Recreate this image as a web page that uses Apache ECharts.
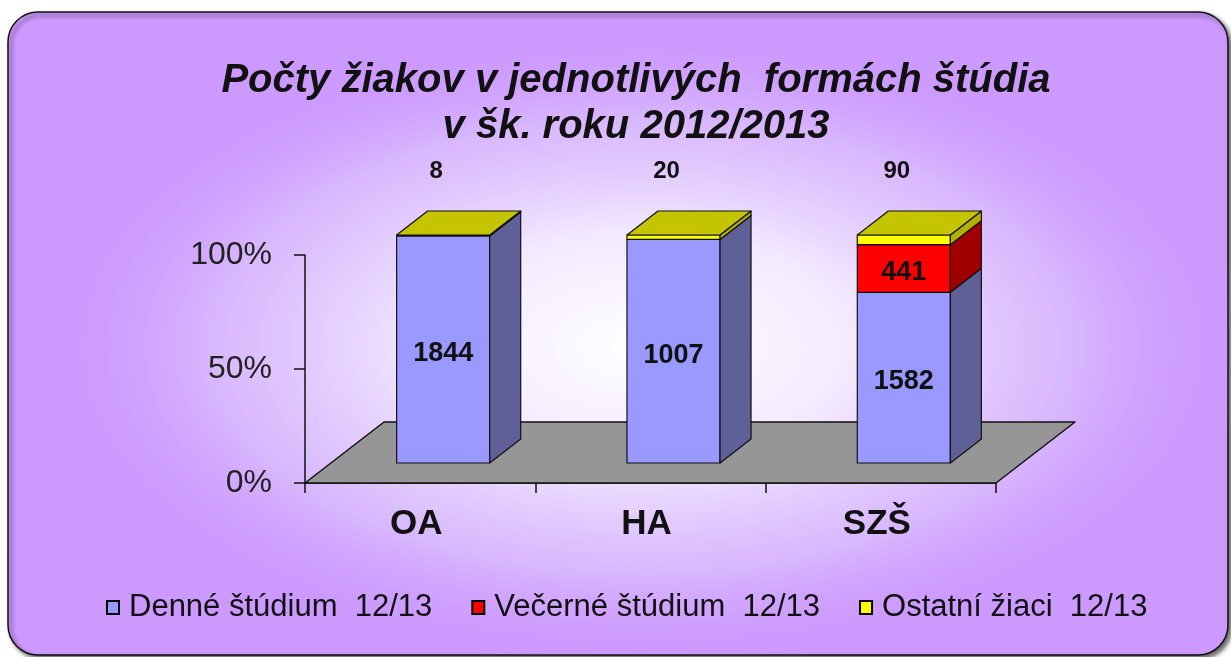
<!DOCTYPE html>
<html>
<head>
<meta charset="utf-8">
<script src="https://cdn.jsdelivr.net/npm/echarts@6/dist/echarts.min.js"></script>
<style>
  html, body { margin: 0; padding: 0; background: #fff; }
  #chart { width: 1231px; height: 657px; }
</style>
</head>
<body>
<div id="chart"></div>
<script>
// data
const categories = ['OA', 'HA', 'SZŠ'];
const seriesNames = ['Denné štúdium  12/13', 'Večerné štúdium  12/13', 'Ostatní žiaci  12/13'];
const denne = [1844, 1007, 1582];
const vecerne = [0, 0, 441];
const ostatni = [8, 20, 90];
const yTicks = [0, 50, 100];

const FONT = "'Liberation Sans', Arial, sans-serif";
const FRONT = [23, -20];   // front face offset from the axis plane
const DEPTH = [31, -24];   // bar depth
const FLOOR = [79, -61];   // floor depth

const colors = [
    { front: '#9999ff', side: '#606099', top: '#7a7acc' },
    { front: '#ff0000', side: '#a00000', top: '#c00000' },
    { front: '#ffff00', side: '#b0b000', top: '#c4c400' }
];

const all = [denne, vecerne, ostatni];
const totals = categories.map((c, i) => all.reduce((s, arr) => s + arr[i], 0));

// [category, from %, to %, count]
function stackData(k) {
    return categories.map((c, i) => {
        let lo = 0;
        for (let j = 0; j < k; j++) lo += all[j][i] / totals[i] * 100;
        const hi = lo + all[k][i] / totals[i] * 100;
        return [i, lo, hi, all[k][i]];
    });
}

function makeRender(k) {
    return function (params, api) {
        const cat = api.value(0), lo = api.value(1), hi = api.value(2), count = api.value(3);
        if (hi - lo <= 0) return null;
        const base = api.coord([cat, lo]);
        const top = api.coord([cat, hi]);
        const w = api.size([1, 0])[0] * 0.404;
        const x0 = base[0] - w / 2 + FRONT[0], x1 = x0 + w;
        const yb = base[1] + FRONT[1], yt = top[1] + FRONT[1];
        const dx = DEPTH[0], dy = DEPTH[1];
        const line = { stroke: '#111', lineWidth: 1.2, lineJoin: 'round' };
        const c = colors[k];
        const children = [
            { type: 'polygon', shape: { points: [[x0, yb], [x1, yb], [x1, yt], [x0, yt]] },
              style: Object.assign({ fill: c.front }, line) },
            { type: 'polygon', shape: { points: [[x1, yb], [x1 + dx, yb + dy], [x1 + dx, yt + dy], [x1, yt]] },
              style: Object.assign({ fill: c.side }, line) }
        ];
        if (k === all.length - 1) {
            children.push({ type: 'polygon', shape: { points: [[x0, yt], [x1, yt], [x1 + dx, yt + dy], [x0 + dx, yt + dy]] },
                style: Object.assign({ fill: c.top }, line) });
            children.push({ type: 'text', style: {
                text: String(count), x: (x0 + x1) / 2 - 7, y: api.coord([cat, 100])[1] - 84,
                align: 'center', verticalAlign: 'middle', fill: '#111', font: 'bold 24px ' + FONT } });
        } else {
            children.push({ type: 'text', style: {
                text: String(count), x: (x0 + x1) / 2, y: (yb + yt) / 2 + 4,
                align: 'center', verticalAlign: 'middle', fill: '#111', font: 'bold 27px ' + FONT } });
        }
        return { type: 'group', children: children };
    };
}

function renderFloor(params, api) {
    const cs = params.coordSys;
    const yb = cs.y + cs.height;
    return {
        type: 'polygon',
        shape: { points: [[cs.x, yb], [cs.x + cs.width, yb], [cs.x + cs.width + FLOOR[0], yb + FLOOR[1]], [cs.x + FLOOR[0], yb + FLOOR[1]]] },
        style: { fill: '#969696', stroke: '#111', lineWidth: 1.5, lineJoin: 'round' }
    };
}

const chart = echarts.init(document.getElementById('chart'));

const series = [{
    name: 'floor', type: 'custom', renderItem: renderFloor, data: [[0, 0]],
    encode: { x: 0, y: 1 }, z: 1, silent: true
}];
seriesNames.forEach((name, k) => {
    series.push({
        name: name, type: 'custom', renderItem: makeRender(k), data: stackData(k),
        encode: { x: 0, y: [1, 2] }, z: 3,
        itemStyle: { color: colors[k].front, borderColor: '#000', borderWidth: 2 }
    });
});

chart.setOption({
    animation: false,
    graphic: [
        { type: 'rect', z: -10, shape: { x: 8, y: 12, width: 1220, height: 643, r: 30 },
          style: { fill: '#cc99ff', stroke: '#111', lineWidth: 1.5, shadowBlur: 4, shadowOffsetX: 3, shadowOffsetY: 3, shadowColor: 'rgba(0,0,0,0.6)' } },
        { type: 'rect', z: -9, x: 8, y: 12, scaleX: 1220 / 643, silent: true,
          shape: { x: 0, y: 0, width: 643, height: 643 },
          style: { fill: new echarts.graphic.RadialGradient(0.52, 0.52, 0.5, [
              { offset: 0, color: 'rgba(255,255,255,1)' },
              { offset: 0.35, color: 'rgba(245,238,255,0.95)' },
              { offset: 0.7, color: 'rgba(225,205,252,0.6)' },
              { offset: 1, color: 'rgba(204,153,255,0)' }
          ]) } }
    ],
    title: {
        text: 'Počty žiakov v jednotlivých  formách štúdia\nv šk. roku 2012/2013',
        left: 636, top: 58, padding: 0, textAlign: 'center',
        textStyle: { fontFamily: FONT, fontSize: 40, fontStyle: 'italic', fontWeight: 'bold', color: '#111', lineHeight: 46 }
    },
    legend: {
        data: seriesNames, bottom: 34, left: 106, padding: 0,
        icon: 'rect', itemWidth: 12, itemHeight: 13, itemGap: 39,
        itemStyle: { borderColor: '#000', borderWidth: 2 },
        textStyle: { fontFamily: FONT, fontSize: 31, color: '#111', padding: [0, 0, 0, 5] }
    },
    grid: { left: 305, right: 235, top: 255, bottom: 174 },
    xAxis: {
        type: 'category', data: categories,
        axisLine: { lineStyle: { color: '#111', width: 1.5 } },
        axisTick: { show: true, length: 10, interval: 0, lineStyle: { color: '#111', width: 1.5 } },
        axisLabel: { fontFamily: FONT, fontSize: 35, fontWeight: 'bold', color: '#111', margin: 24, padding: [0, 8, 0, 0] },
        splitLine: { show: false }
    },
    yAxis: {
        type: 'value', min: yTicks[0], max: yTicks[yTicks.length - 1], interval: yTicks[1] - yTicks[0],
        axisLine: { show: true, lineStyle: { color: '#111', width: 1.5 } },
        axisTick: { show: true, length: 11, lineStyle: { color: '#111', width: 1.5 } },
        axisLabel: { formatter: '{value}%', fontFamily: FONT, fontSize: 32, color: '#222', margin: 33, padding: [6, 0, 0, 0] },
        splitLine: { show: false }
    },
    series: series
});
</script>
</body>
</html>
